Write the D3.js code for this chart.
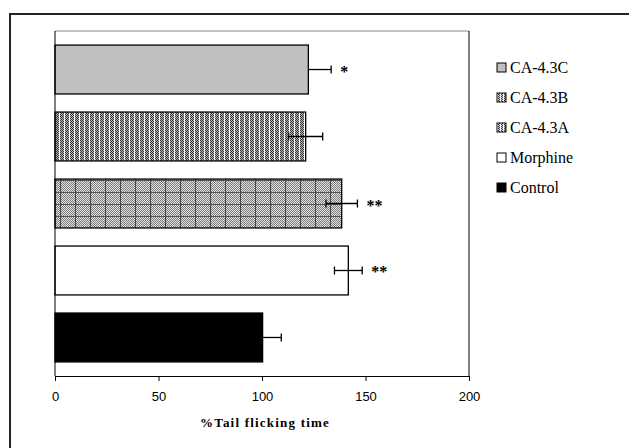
<!DOCTYPE html>
<html><head><meta charset="utf-8">
<script src="https://cdn.jsdelivr.net/npm/d3@7"></script>
<style>body{margin:0;background:#fff}svg{display:block}</style>
</head><body>
<svg id="c" width="629" height="448"></svg>
<script>
const categories = ["CA-4.3C","CA-4.3B","CA-4.3A","Morphine","Control"];
const values = [122.4, 121.1, 138.5, 141.7, 100.3];
const errors = [11, 8.2, 7.6, 6.7, 9];
const errorBothSides = [false, true, true, true, false];
const marks = ["*", "", "**", "**", ""];
const legendOrder = ["CA-4.3C","CA-4.3B","CA-4.3A","Morphine","Control"];
const xTicks = [0, 50, 100, 150, 200];
const xTitle = "%Tail flicking time";

const svg = d3.select("#c");
const defs = svg.append("defs");

// pattern B: dotted with white vertical lines
const pB = defs.append("pattern").attr("id","pB").attr("patternUnits","userSpaceOnUse")
  .attr("width",5).attr("height",2);
pB.append("rect").attr("width",5).attr("height",2).attr("fill","#b8b8b8");
[[0,0],[2,0],[1,1],[3,1]].forEach(([x,y])=>pB.append("rect").attr("x",x).attr("y",y).attr("width",1).attr("height",1).attr("fill","#333"));
pB.append("rect").attr("x",4).attr("y",0).attr("width",1).attr("height",2).attr("fill","#fff");

// pattern A: fine checker with darker grid
const pA = defs.append("pattern").attr("id","pA").attr("patternUnits","userSpaceOnUse")
  .attr("width",15).attr("height",12);
pA.append("rect").attr("width",15).attr("height",12).attr("fill","#e4e4e4");
for(let y=0;y<12;y++) for(let x=0;x<15;x++) if((x+y)%2===0)
  pA.append("rect").attr("x",x).attr("y",y).attr("width",1).attr("height",1).attr("fill","#7a7a7a");
pA.append("rect").attr("x",0).attr("y",0).attr("width",1).attr("height",12).attr("fill","#444");
pA.append("rect").attr("x",0).attr("y",0).attr("width",15).attr("height",1).attr("fill","#555");

// small legend patterns
const pBs = defs.append("pattern").attr("id","pBs").attr("patternUnits","userSpaceOnUse").attr("width",3).attr("height",2);
pBs.append("rect").attr("width",3).attr("height",2).attr("fill","#ccc");
[[0,0],[1,1]].forEach(([x,y])=>pBs.append("rect").attr("x",x).attr("y",y).attr("width",1).attr("height",1).attr("fill","#333"));
pBs.append("rect").attr("x",2).attr("width",1).attr("height",2).attr("fill","#fff");

const fills = {"CA-4.3C":"#c0c0c0","CA-4.3B":"url(#pB)","CA-4.3A":"url(#pA)","Morphine":"#fff","Control":"#000"};
const legendFills = {"CA-4.3C":"#c0c0c0","CA-4.3B":"url(#pBs)","CA-4.3A":"url(#pBs)","Morphine":"#fff","Control":"#000"};

// outer frame
svg.append("rect").attr("x",10).attr("y",14).attr("width",640).attr("height",460)
  .attr("fill","none").attr("stroke","#222").attr("stroke-width",2);

const x = d3.scaleLinear().domain([0,200]).range([55,469]);
const y = d3.scaleBand().domain(categories).range([31,376]).paddingInner(0.27).paddingOuter(0.21);

// plot box
svg.append("line").attr("x1",55).attr("x2",469).attr("y1",31).attr("y2",31).attr("stroke","#888").attr("stroke-width",1);
svg.append("line").attr("x1",469).attr("x2",469).attr("y1",31).attr("y2",376).attr("stroke","#000").attr("stroke-width",1);

// bars
svg.selectAll("rect.bar").data(categories).join("rect").attr("class","bar")
  .attr("x",x(0)).attr("y",d=>y(d))
  .attr("width",(d,i)=>x(values[i])-x(0)).attr("height",y.bandwidth())
  .attr("fill",d=>fills[d]).attr("stroke","#000").attr("stroke-width",1.3);

// error bars
categories.forEach((c,i)=>{
  const cy = y(c)+y.bandwidth()/2;
  const lo = errorBothSides[i] ? values[i]-errors[i] : values[i];
  const hi = values[i]+errors[i];
  const g = svg.append("g").attr("stroke","#000").attr("stroke-width",1.3);
  g.append("line").attr("x1",x(lo)).attr("x2",x(hi)).attr("y1",cy).attr("y2",cy);
  g.append("line").attr("x1",x(hi)).attr("x2",x(hi)).attr("y1",cy-4).attr("y2",cy+4);
  if(errorBothSides[i]) g.append("line").attr("x1",x(lo)).attr("x2",x(lo)).attr("y1",cy-4).attr("y2",cy+4);
  if(marks[i]) svg.append("text").attr("x",x(hi)+9).attr("y",cy+7)
    .attr("font-family","Liberation Serif, serif").attr("font-weight","bold").attr("font-size",16).text(marks[i]);
});

// x axis
const ax = svg.append("g").attr("transform","translate(0,376)")
  .call(d3.axisBottom(x).tickValues(xTicks).tickSize(5).tickSizeOuter(0).tickPadding(11));
ax.select(".domain").attr("stroke","#000");
ax.selectAll("line").attr("stroke","#000");
ax.selectAll("text").attr("font-family","Liberation Sans, Arial, sans-serif").attr("font-size",13).attr("fill","#000");
// y axis line
svg.append("line").attr("x1",55).attr("x2",55).attr("y1",31).attr("y2",376).attr("stroke","#000");

svg.append("text").attr("x",265).attr("y",427).attr("text-anchor","middle")
  .attr("font-family","Liberation Serif, serif").attr("font-weight","bold").attr("font-size",13)
  .attr("letter-spacing",1.2).text(xTitle);

// legend
const lg = svg.append("g");
legendOrder.forEach((c,i)=>{
  const ly = 68 + i*30;
  lg.append("rect").attr("x",497).attr("y",ly-5).attr("width",9).attr("height",9)
    .attr("fill",legendFills[c]).attr("stroke","#000").attr("stroke-width",1);
  lg.append("text").attr("x",510).attr("y",ly+5).attr("font-family","Liberation Serif, serif")
    .attr("font-size",16).text(c);
});
</script>
</body></html>
